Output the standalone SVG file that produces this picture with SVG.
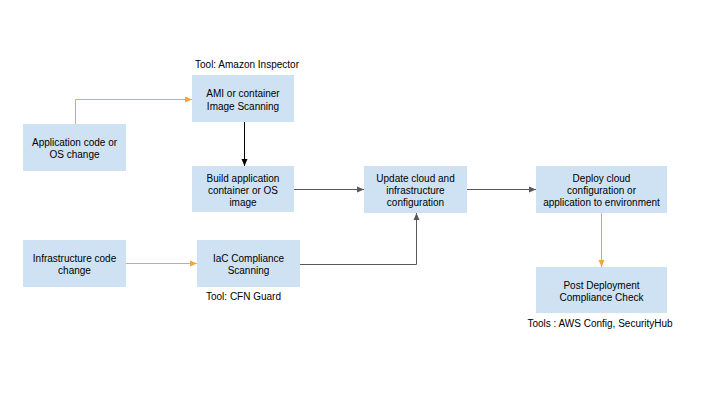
<svg xmlns="http://www.w3.org/2000/svg" width="720" height="405" viewBox="0 0 720 405">
<defs>
<style>
.box{fill:#cfe2f3;stroke:none}
.t{font-family:"Liberation Sans",Arial,sans-serif;font-size:10px;fill:#000;text-anchor:middle}
.g{fill:none;stroke:#595959;stroke-width:1}
.o{fill:none;stroke:#f6a53a;stroke-width:1}
.k{fill:none;stroke:#000;stroke-width:1}
</style>
<marker id="ag" markerWidth="8" markerHeight="8" refX="7" refY="4" orient="auto" markerUnits="userSpaceOnUse"><path d="M0,1 L7,4 L0,7 Z" fill="#595959"/></marker>
<marker id="ao" markerWidth="8" markerHeight="8" refX="7" refY="4" orient="auto" markerUnits="userSpaceOnUse"><path d="M0,1 L7,4 L0,7 Z" fill="#f6a53a"/></marker>
<marker id="ak" markerWidth="8" markerHeight="8" refX="7" refY="4" orient="auto" markerUnits="userSpaceOnUse"><path d="M0,1 L7,4 L0,7 Z" fill="#000"/></marker>
</defs>
<rect width="720" height="405" fill="#fff"/>
<g id="connectors">
<path class="o" d="M75.5,124 V99.5 H192" marker-end="url(#ao)"/>
<path class="k" d="M244.5,122 V166" marker-end="url(#ak)"/>
<path class="g" d="M294,189.5 H364" marker-end="url(#ag)"/>
<path class="g" d="M300,264.5 H416.5 V213" marker-end="url(#ag)"/>
<path class="g" d="M467,189.5 H536" marker-end="url(#ag)"/>
<path class="o" d="M601.5,213 V267" marker-end="url(#ao)"/>
<path class="o" d="M126,263.5 H197" marker-end="url(#ao)"/>
</g>
<g id="app-change">
<rect class="box" x="23" y="124" width="103" height="47"/>
<text class="t" x="74.5" y="145.5">Application code or</text>
<text class="t" x="74.5" y="157.5">OS change</text>
</g>
<g id="ami-scan">
<text class="t" x="247" y="68">Tool: Amazon Inspector</text>
<rect class="box" x="192" y="75" width="102" height="47"/>
<text class="t" x="243" y="97">AMI or container</text>
<text class="t" x="243" y="109.5">Image Scanning</text>
</g>
<g id="build">
<rect class="box" x="192" y="166" width="102" height="46"/>
<text class="t" x="243" y="182">Build application</text>
<text class="t" x="243" y="194">container or OS</text>
<text class="t" x="243" y="206">image</text>
</g>
<g id="update">
<rect class="box" x="364" y="166" width="103" height="47"/>
<text class="t" x="415.5" y="182">Update cloud and</text>
<text class="t" x="415.5" y="194">infrastructure</text>
<text class="t" x="415.5" y="206">configuration</text>
</g>
<g id="deploy">
<rect class="box" x="536" y="166" width="131" height="47"/>
<text class="t" x="601.5" y="182">Deploy cloud</text>
<text class="t" x="601.5" y="194">configuration or</text>
<text class="t" x="601.5" y="206">application to environment</text>
</g>
<g id="post">
<rect class="box" x="536" y="267" width="131" height="46"/>
<text class="t" x="601.5" y="289">Post Deployment</text>
<text class="t" x="601.5" y="301">Compliance Check</text>
<text class="t" x="600" y="327">Tools : AWS Config, SecurityHub</text>
</g>
<g id="infra-change">
<rect class="box" x="23" y="240" width="103" height="47"/>
<text class="t" x="74.5" y="261.5">Infrastructure code</text>
<text class="t" x="74.5" y="273.5">change</text>
</g>
<g id="iac-scan">
<rect class="box" x="197" y="240" width="103" height="47"/>
<text class="t" x="248.5" y="261.5">IaC Compliance</text>
<text class="t" x="248.5" y="273.5">Scanning</text>
<text class="t" x="243.5" y="300">Tool: CFN Guard</text>
</g>
</svg>
